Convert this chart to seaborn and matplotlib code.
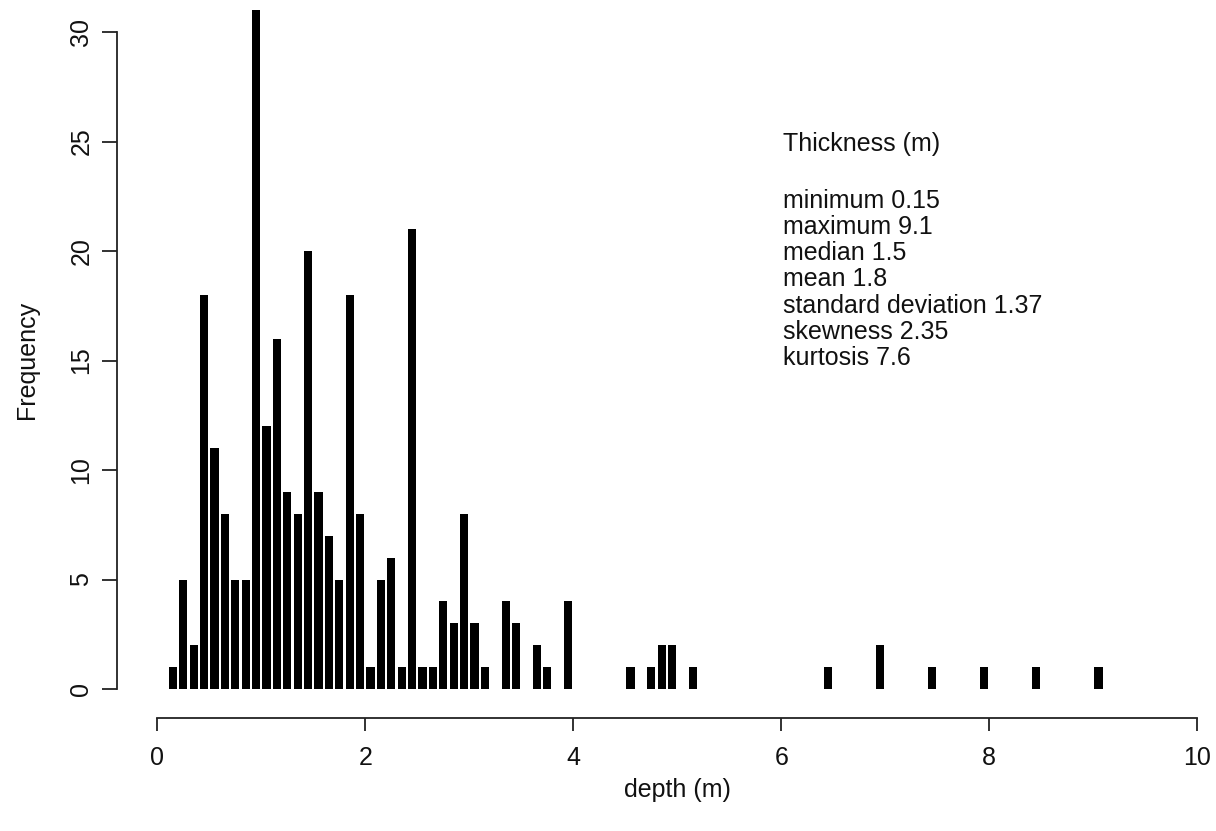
import matplotlib
matplotlib.use("Agg")
import matplotlib.pyplot as plt
import seaborn as sns
import pandas as pd

# ---- data ----
depth_values = [0.15, 0.25, 0.35, 0.45, 0.55, 0.65, 0.75, 0.85, 0.95, 1.05,
                1.15, 1.25, 1.35, 1.45, 1.55, 1.65, 1.75, 1.85, 1.95, 2.05,
                2.15, 2.25, 2.35, 2.45, 2.55, 2.65, 2.75, 2.85, 2.95, 3.05,
                3.15, 3.35, 3.45, 3.65, 3.75, 3.95, 4.55, 4.75, 4.85, 4.95,
                5.15, 6.45, 6.95, 7.45, 7.95, 8.45, 9.05]
frequencies = [1, 5, 2, 18, 11, 8, 5, 5, 31, 12,
               16, 9, 8, 20, 9, 7, 5, 18, 8, 1,
               5, 6, 1, 21, 1, 1, 4, 3, 8, 3,
               1, 4, 3, 2, 1, 4, 1, 1, 2, 2,
               1, 1, 2, 1, 1, 1, 1]
x_ticks = [0, 2, 4, 6, 8, 10]
y_ticks = [0, 5, 10, 15, 20, 25, 30]
stats_title = "Thickness (m)"
stats_lines = ["minimum 0.15", "maximum 9.1", "median 1.5", "mean 1.8",
               "standard deviation 1.37", "skewness 2.35", "kurtosis 7.6"]

df = pd.DataFrame({"depth": depth_values, "freq": frequencies})

sns.set_theme(style="ticks")
plt.rcParams["font.family"] = ["Liberation Sans", "DejaVu Sans"]

W, H = 1216, 831
fig = plt.figure(figsize=(W / 100, H / 100), dpi=100)
ax_left, ax_right, ax_bottom_px = 117, 1210, 718
ax = fig.add_axes([ax_left / W, (H - ax_bottom_px) / H,
                   (ax_right - ax_left) / W, ax_bottom_px / H])

sns.barplot(data=df, x="depth", y="freq", native_scale=True, width=0.8,
            color="black", saturation=1, errorbar=None, linewidth=0, ax=ax)

# pixel mapping from the reference: x 0->157.3, 10->1197.3 ; y 0->689, 30->32
xs = (1197.3 - 157.3) / 10
ys = (689 - 32) / 30
ax.set_xlim(-(157.3 - ax_left) / xs, (ax_right - 157.3) / xs)
ax.set_ylim(-(ax_bottom_px - 689) / ys, 689 / ys)

ax.set_xticks(x_ticks)
ax.set_xticklabels([str(t) for t in x_ticks])
ax.set_yticks(y_ticks)
ax.set_yticklabels([str(t) for t in y_ticks], rotation=90, va="center")

for s in ["top", "right"]:
    ax.spines[s].set_visible(False)
for s in ["left", "bottom"]:
    ax.spines[s].set_color("#222222")
    ax.spines[s].set_linewidth(1.3)
ax.spines["left"].set_bounds(0, 30)
ax.spines["bottom"].set_bounds(0, 10)

ax.tick_params(axis="both", direction="out", color="#222222", width=1.3,
               labelsize=18, labelcolor="#111111")
ax.tick_params(axis="x", length=9.5, pad=11)
ax.tick_params(axis="y", length=10.5, pad=6.5)

ax.set_xlabel("depth (m)", fontsize=18, color="#111111")
ax.set_ylabel("Frequency", fontsize=18, color="#111111")
ax.xaxis.label.set_va("center")
ax.yaxis.label.set_va("center")
ax.xaxis.set_label_coords((677 - ax_left) / (ax_right - ax_left),
                          (ax_bottom_px - 790) / ax_bottom_px)
ax.yaxis.set_label_coords((27 - ax_left) / (ax_right - ax_left),
                          (ax_bottom_px - 360) / ax_bottom_px)

# statistics text block
tx = (783 - 157.3) / xs
ax.text(tx, (689 - 151) / ys, stats_title, fontsize=18, color="#111111",
        ha="left", va="baseline")
ax.text(tx, (689 - 188.5) / ys, "\n".join(stats_lines), fontsize=18,
        color="#111111", ha="left", va="top", linespacing=1.12)

fig.savefig("out.png", dpi=100, facecolor="white")
